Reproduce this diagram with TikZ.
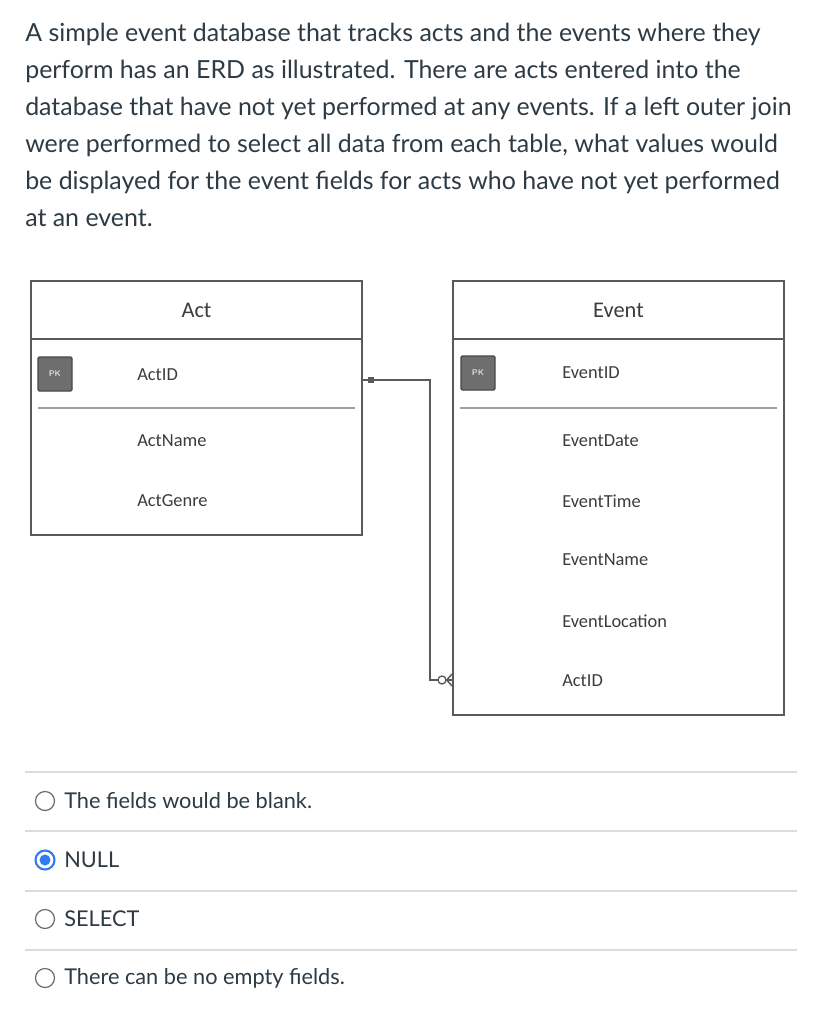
\documentclass[tikz,border=0pt]{standalone}
\usepackage{fontspec}
\setmainfont{Lato}
\newfontfamily\erdfont{Carlito}
\definecolor{txt}{HTML}{2D3B45}
\definecolor{erdline}{HTML}{5A5A5A}
\definecolor{erdtext}{HTML}{3C3C3C}
\definecolor{pkfill}{HTML}{6E6E6E}
\definecolor{selblue}{HTML}{2F7BEF}
\definecolor{sepgray}{HTML}{DCDCDC}
\begin{document}
\begin{tikzpicture}[x=0.75pt,y=-0.75pt,
  table/.style={draw=erdline,line width=1.4pt,inner sep=0pt,minimum width={331*0.75pt}},
  tabtitle/.style={font=\erdfont\fontsize{16.8}{19}\selectfont,text=erdtext},
  field/.style={font=\erdfont\fontsize{13.8}{16}\selectfont,text=erdtext,anchor=west,inner sep=0pt},
  pkbox/.style={draw=erdline!80!black,fill=pkfill,line width=0.9pt,rounded corners=1pt,minimum size={34*0.75pt},inner sep=0pt,font=\sffamily\bfseries\fontsize{6.2}{7}\selectfont,text=white!75!gray},
  rowsep/.style={draw=gray!75,line width=1pt},
  conn/.style={draw=erdline,line width=1.1pt},
  radio/.style={circle,draw=gray!85!black,line width=0.9pt,minimum size={19*0.75pt},inner sep=0pt},
  optline/.style={draw=sepgray,line width=0.9pt},
  opttext/.style={font=\fontsize{16.3}{19}\selectfont,text=txt,anchor=west,inner sep=0pt}]
\useasboundingbox (0,0) rectangle (818,1024);
\fill[white] (0,0) rectangle (818,1024);

% question
\node[anchor=north west,inner sep=0pt,align=left,text=txt,font=\fontsize{18.7}{27.75}\selectfont] (q) at (25,23)
{A simple event database that tracks acts and the events where they\\
perform has an ERD as illustrated. There are acts entered into the\\
database that have not yet performed at any events. If a left outer join\\
were performed to select all data from each table, what values would\\
be displayed for the event fields for acts who have not yet performed\\
at an event.};

% Act table
\node[table,minimum height={254*0.75pt}] (act) at (196.5,408) {};
\draw[erdline,line width=1.4pt] (31,339) -- (362,339);
\node[tabtitle] (actt) at (196.5,310) {Act};
\node[pkbox] (actpk) at (55,374) {PK};
\node[field] (actid) at (137,375) {ActID};
\draw[rowsep] (38,408) -- (355,408);
\node[field] (actname) at (137,441) {ActName};
\node[field] (actgenre) at (137,501) {ActGenre};

% Event table
\node[table,minimum height={434*0.75pt}] (event) at (618.5,498) {};
\draw[erdline,line width=1.4pt] (453,339) -- (784,339);
\node[tabtitle] (eventt) at (618.5,310) {Event};
\node[pkbox] (eventpk) at (478,373) {PK};
\node[field] (eventid) at (562,373) {EventID};
\draw[rowsep] (460,408) -- (777,408);
\node[field] (eventdate) at (562,441) {EventDate};
\node[field] (eventtime) at (562,501) {EventTime};
\node[field] (eventname) at (562,560) {EventName};
\node[field] (eventloc) at (562,621) {EventLocation};
\node[field] (eventactid) at (562,681) {ActID};

% relationship
\coordinate (r1) at (act.east |- 0,380);
\coordinate (r2) at (430,380);
\coordinate (r3) at (430,680);
\coordinate (r4) at (event.west |- 0,680);
\draw[conn] (r1) -- (r2) -- (r3) -- (r4);
\fill[erdline] (368,377) rectangle (374,383);
\node[circle,draw=erdline,fill=white,line width=1pt,minimum size={8*0.75pt},inner sep=0pt] (opt) at (442,680) {};
\draw[conn] (opt.east) -- (r4 |- 0,674);
\draw[conn] (opt.east) -- (r4 |- 0,686);

% options
\draw[optline] (25,772) -- (797,772);
\draw[optline] (25,831) -- (797,831);
\draw[optline] (25,891) -- (797,891);
\draw[optline] (25,950) -- (797,950);

\node[radio] (o1) at (45,801) {};
\node[opttext] (t1) at (64,801) {The fields would be blank.};
\node[radio,draw=selblue,line width=1.6pt] (o2) at (45,860) {};
\fill[selblue] (o2.center) circle[radius=5.5];
\node[opttext] (t2) at (64,860) {NULL};
\node[radio] (o3) at (45,919) {};
\node[opttext] (t3) at (64,919) {SELECT};
\node[radio] (o4) at (45,978) {};
\node[opttext] (t4) at (64,978) {There can be no empty fields.};
\end{tikzpicture}
\end{document}
